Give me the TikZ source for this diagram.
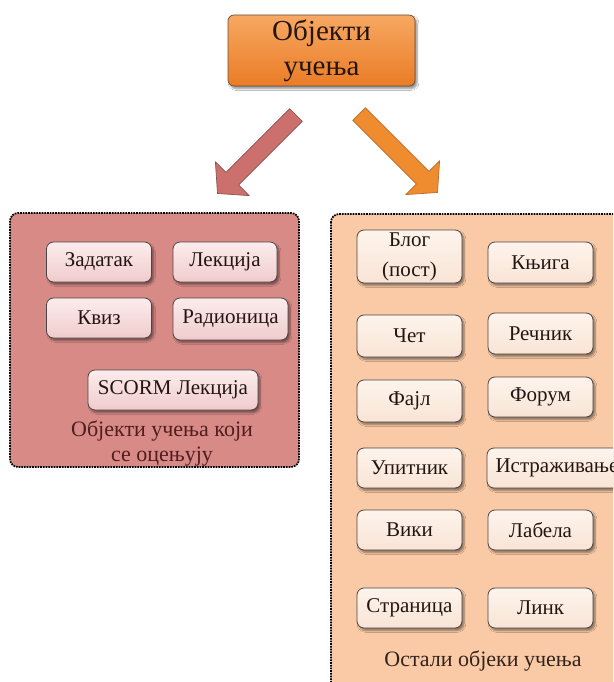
\documentclass[tikz,border=0pt]{standalone}
\usepackage{fontspec}
\setmainfont{Liberation Serif}
\usetikzlibrary{shadows.blur}

\definecolor{titletop}{RGB}{247,168,98}
\definecolor{titlebot}{RGB}{234,124,38}
\definecolor{titleline}{RGB}{110,78,55}
\definecolor{rosegroup}{RGB}{216,138,135}
\definecolor{peachgroup}{RGB}{250,202,166}
\definecolor{roseitemtop}{RGB}{252,236,236}
\definecolor{roseitembot}{RGB}{240,204,204}
\definecolor{peachitemtop}{RGB}{254,244,236}
\definecolor{peachitembot}{RGB}{248,228,214}
\definecolor{itemline}{RGB}{75,70,70}
\definecolor{rosearrow}{RGB}{204,112,110}
\definecolor{rosearrowline}{RGB}{140,82,80}
\definecolor{orangearrow}{RGB}{240,140,48}
\definecolor{orangearrowline}{RGB}{185,108,40}
\definecolor{inktext}{RGB}{35,22,18}
\definecolor{roselabel}{RGB}{80,30,30}
\definecolor{peachlabel}{RGB}{50,35,28}

\newcommand{\itemfont}{\fontsize{21}{25}\selectfont}
\newcommand{\labelfont}{\fontsize{22}{26}\selectfont}
\newcommand{\titlefont}{\fontsize{29}{35}\selectfont}

\begin{document}
\begin{tikzpicture}[x=1pt,y=-1pt,
  softshadow/.style={blur shadow={shadow xshift=2pt,shadow yshift=-2.5pt,
      shadow blur steps=6,shadow opacity=45}},
  titlebox/.style={draw=titleline,line width=0.7pt,rounded corners=6pt,
      top color=titletop,bottom color=titlebot,minimum width=187pt,
      minimum height=71pt,align=center,text=inktext,font=\titlefont,
      inner sep=2pt,softshadow},
  groupbox/.style={draw=black,line width=1.7pt,densely dotted,rounded corners=8pt},
  item/.style={draw=itemline,line width=0.8pt,rounded corners=7pt,
      minimum width=105pt,minimum height=40pt,inner sep=1pt,align=center,
      text=inktext,font=\itemfont,softshadow},
  roseitem/.style={item,top color=roseitemtop,bottom color=roseitembot},
  peachitem/.style={item,top color=peachitemtop,bottom color=peachitembot},
  blockarrow/.style={line width=0.7pt,line join=round},
  grouplabel/.style={font=\labelfont,align=center,inner sep=0pt}]

\useasboundingbox (0,0) rectangle (613,682);
\clip (0,0) rectangle (613,682);
\fill[white] (0,0) rectangle (613,682);

% title
\node[titlebox] (title) at (321.5,50.5) {Објекти\\[0pt]учења};

% block arrows
\begin{scope}[shift={(296,115)},rotate=225]
  \draw[blockarrow,fill=rosearrow,draw=rosearrowline]
    (0,-9) -- (90,-9) -- (90,-24) -- (111,0) -- (90,24) -- (90,9) -- (0,9) -- cycle;
\end{scope}
\begin{scope}[shift={(359,114)},rotate=-45]
  \draw[blockarrow,fill=orangearrow,draw=orangearrowline]
    (0,-9) -- (90,-9) -- (90,-24) -- (111,0) -- (90,24) -- (90,9) -- (0,9) -- cycle;
\end{scope}

% group of graded objects
\draw[groupbox,fill=rosegroup] (10,213) rectangle (299,467);
\node[roseitem] (zadatak) at (99,262) {Задатак};
\node[roseitem,minimum width=104pt] (lekcija) at (225,262) {Лекција};
\node[roseitem] (kviz) at (99,318) {Квиз};
\node[roseitem,minimum width=115pt,minimum height=42pt] (radionica) at (230.5,319) {Радионица};
\node[roseitem,minimum width=170pt] (scorm) at (173,390) {SCORM Лекција};
\node[grouplabel,text=roselabel] (gradedlabel) at (162,443)
  {Објекти учења који\\[-1pt]се оцењују};

% group of other objects
\draw[groupbox,fill=peachgroup] (331,214) rectangle (660,720);
\node[peachitem,minimum height=53pt] (blog) at (409.5,256.5) {Блог\\[5pt](пост)};
\node[peachitem,minimum height=41pt] (knjiga) at (540.5,262.5) {Књига};
\node[peachitem,minimum height=42pt] (chat) at (409.5,336) {Чет};
\node[peachitem,minimum height=41pt] (recnik) at (540.5,333.5) {Речник};
\node[peachitem,minimum height=42pt] (fajl) at (409.5,401) {Фајл};
\node[peachitem] (forum) at (540.5,397) {Форум};
\node[peachitem] (upitnik) at (409.5,468) {Упитник};
\node[peachitem,minimum width=140pt] (istrazivanje) at (557,468) {Истраживање};
\node[peachitem] (wiki) at (409.5,530) {Вики};
\node[peachitem] (labela) at (540.5,530) {Лабела};
\node[peachitem] (stranica) at (409.5,608) {Страница};
\node[peachitem] (link) at (540.5,608) {Линк};
\node[grouplabel,text=peachlabel] (otherlabel) at (483,661) {Остали објеки учења};

\end{tikzpicture}
\end{document}
